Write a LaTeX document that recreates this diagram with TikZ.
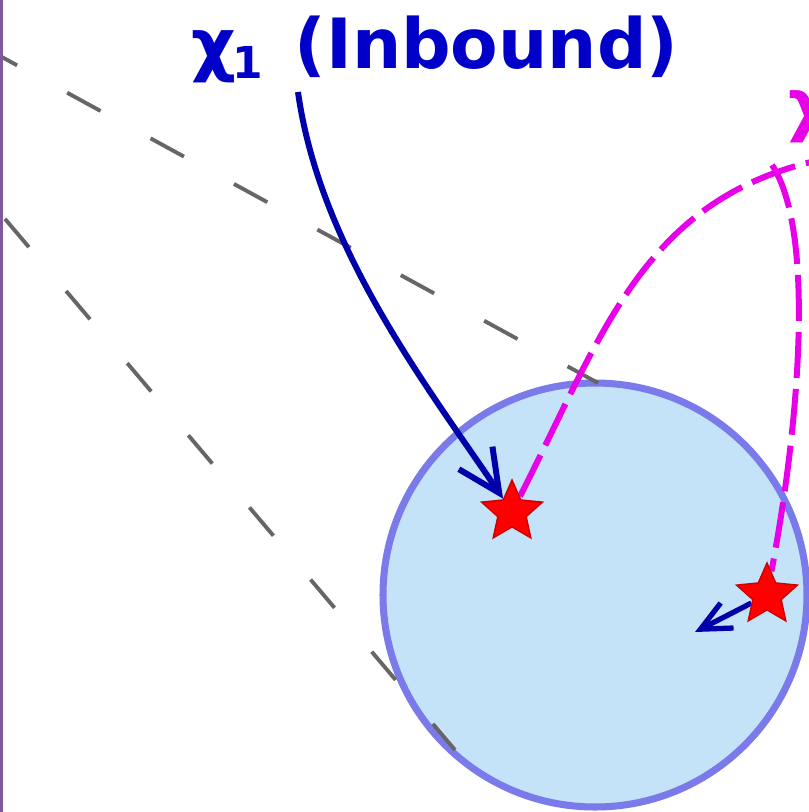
\documentclass[tikz,border=0pt]{standalone}
\usepackage{fontspec}
\setmainfont{DejaVu Sans}
\usetikzlibrary{arrows.meta,shapes.geometric}
\usepackage{xcolor}
\definecolor{diskfill}{RGB}{197,227,248}
\definecolor{diskline}{RGB}{122,122,234}
\definecolor{inblue}{RGB}{0,0,200}
\definecolor{outmag}{RGB}{232,0,232}
\definecolor{framepurple}{RGB}{128,88,160}
\pgfdeclarelayer{back}
\pgfsetlayers{back,main}

\begin{document}
\begin{tikzpicture}[x=0.01cm,y=-0.01cm,
  every node/.style={font=\bfseries\fontsize{19.7}{23}\selectfont,inner sep=0pt},
  guide/.style={draw=black!60,line width=1.1pt},
  starmark/.style={star,star points=5,star point ratio=2.15,minimum size=0.64cm,fill=red,draw=red!80!black,line width=0.4pt},
  inarrow/.style={draw=inblue!85!black,line width=1.7pt,-{Straight Barb[length=12pt,width=11.5pt]}},
  outlink/.style={draw=outmag,line width=1.7pt,dash pattern=on 0.46cm off 0.11cm}]
\useasboundingbox (0,0) rectangle (809,812);
\draw[framepurple,line width=0.85pt] (1.5,0) -- (1.5,812);

\node[starmark] (s1) at (512,512) {};
\node[starmark] (s2) at (767,595) {};

\node[text=inblue,anchor=base west] (in1) at (191,68)
  {χ\kern-1pt\lower2.85pt\hbox{\fontsize{12.5}{12.5}\selectfont 1}\hspace{0.45em}(Inbound)};
\node[text=outmag,anchor=base west] (out2) at (788,128) {χ};

\coordinate (t1) at (298,92);
\coordinate (c2a) at (870,152);
\coordinate (c2b) at (772,165);
\coordinate (d2) at (695,632);

\begin{pgfonlayer}{back}
\draw[diskline,fill=diskfill,line width=2pt] (595,595) circle[radius=212];
\draw[guide,dash pattern=on 0.38cm off 0.57cm,dash phase=0.185cm] (0,56) -- (598,383);
\draw[guide,dash pattern=on 0.37cm off 0.575cm,dash phase=0.868cm] (0,213) -- (455,750);
% links to the two stars
\draw[inarrow] (t1) .. controls (320,250) and (430,390) .. (s1);
\draw[outlink] (s1) .. controls (610,320) and (650,175) .. (c2a);
\draw[outlink] (c2b) .. controls (815,230) and (800,420) .. (s2);
\draw[inarrow,line width=1.5pt,-{Straight Barb[length=8.5pt,width=8pt]}] (s2) -- (d2);
\end{pgfonlayer}
\end{tikzpicture}
\end{document}
